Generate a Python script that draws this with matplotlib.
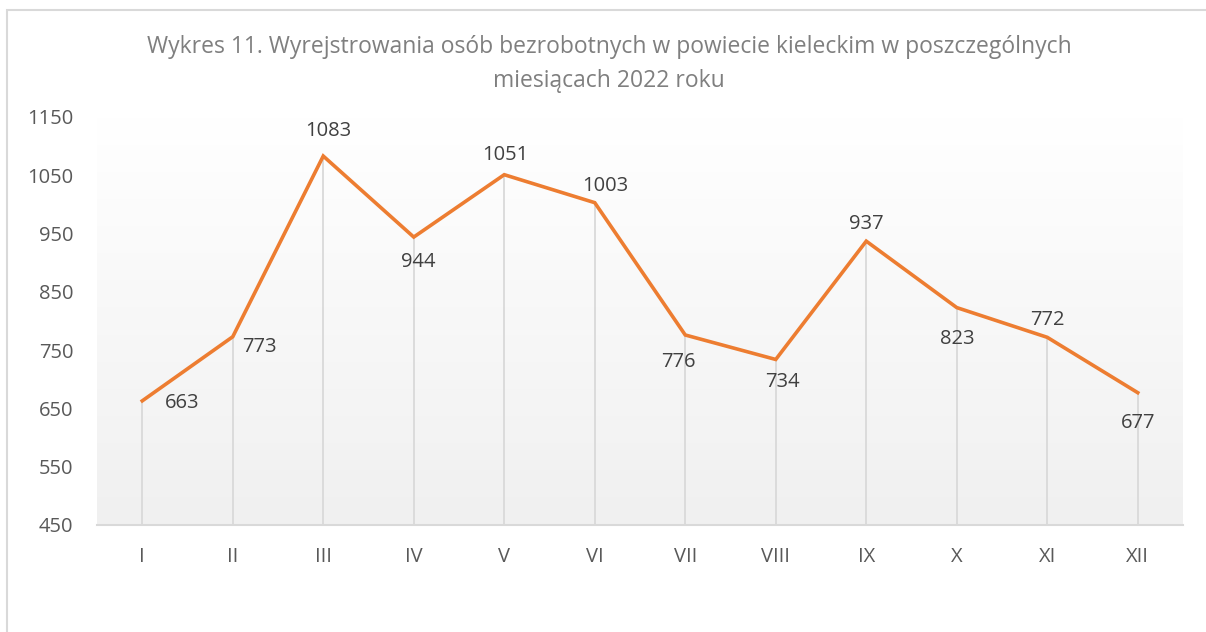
import numpy as np
import matplotlib
matplotlib.use("Agg")
import matplotlib.pyplot as plt
from matplotlib.patches import Rectangle
from matplotlib.colors import LinearSegmentedColormap

months = ["I", "II", "III", "IV", "V", "VI", "VII", "VIII", "IX", "X", "XI", "XII"]
values = [663, 773, 1083, 944, 1051, 1003, 776, 734, 937, 823, 772, 677]
yticks = [450, 550, 650, 750, 850, 950, 1050, 1150]
title = "Wykres 11. Wyrejstrowania osób bezrobotnych w powiecie kieleckim w poszczególnych\nmiesiącach 2022 roku"

# label offsets in pixels (dx, dy) relative to the point
label_offsets = [(40, -2), (27, -10), (5, 25), (5, -25), (1, 20), (11, 17),
                 (-7, -27), (7, -23), (0, 17), (1, -31), (0, 17), (0, -30)]

plt.rcParams['font.family'] = ['Open Sans', 'DejaVu Sans']

W, H = 1206, 632
fig = plt.figure(figsize=(W / 100, H / 100), dpi=100)
fig.patch.set_facecolor('white')

# chart border
fig.patches.append(Rectangle((7 / W, -0.1), 1.2, 1 - 10 / H + 0.1, transform=fig.transFigure,
                             fill=False, edgecolor='#d9d9d9', linewidth=1.5))

left, right, top, bottom = 97, 1183, 117, 525
ax = fig.add_axes([left / W, 1 - bottom / H, (right - left) / W, (bottom - top) / H])

x = np.arange(len(months))
ax.set_xlim(-0.5, len(months) - 0.5)
ax.set_ylim(450, 1150)

# gradient background: white at top, light grey at bottom
cmap = LinearSegmentedColormap.from_list('g', ['#ffffff', '#f0f0f0'])
grad = np.linspace(0, 1, 256).reshape(-1, 1)
ax.imshow(grad, extent=[-0.5, len(months) - 0.5, 450, 1150], origin='upper', aspect='auto',
          cmap=cmap, zorder=0, vmin=0, vmax=1)

# drop lines
ax.vlines(x, 450, values, colors='#d9d9d9', linewidth=1.3, zorder=1)

ax.plot(x, values, color='#ED7D31', linewidth=2.6, zorder=3, solid_joinstyle='miter')

for xi, v, (dx, dy) in zip(x, values, label_offsets):
    ax.annotate(str(v), (xi, v), xytext=(dx, dy), textcoords='offset pixels',
                ha='center', va='center', fontsize=14.5, color='#404040', zorder=4)

for s in ['top', 'right', 'left']:
    ax.spines[s].set_visible(False)
ax.spines['bottom'].set_color('#d9d9d9')
ax.spines['bottom'].set_linewidth(1.5)

ax.set_xticks(x)
ax.set_xticklabels(months)
ax.set_yticks(yticks)
ax.tick_params(axis='both', length=0, labelsize=14.5, labelcolor='#595959')
ax.tick_params(axis='x', pad=16)
ax.tick_params(axis='y', pad=17)

fig.text(609 / W, 1 - 64 / H, title, ha='center', va='center', fontsize=16.5,
         color='#7f7f7f', linespacing=1.6)

fig.savefig('out.png', dpi=100, facecolor='white')
